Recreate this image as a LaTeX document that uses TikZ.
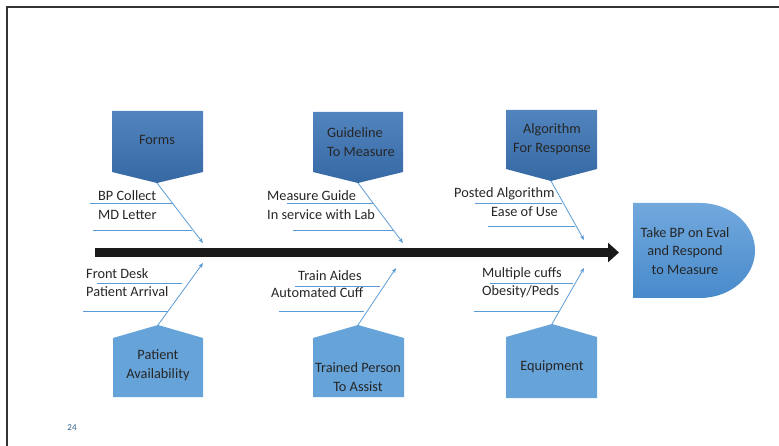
\documentclass[tikz,border=0pt]{standalone}
\usepackage{fontspec}
\setmainfont{Carlito}
\usetikzlibrary{arrows.meta,calc}

\definecolor{inkgray}{RGB}{38,38,38}
\definecolor{boneline}{RGB}{91,155,213}
\definecolor{darkA}{RGB}{82,132,190}
\definecolor{darkB}{RGB}{54,104,164}
\definecolor{lightbox}{RGB}{102,163,216}
\definecolor{headA}{RGB}{114,169,221}
\definecolor{headB}{RGB}{72,138,203}
\definecolor{spine}{RGB}{26,26,26}
\definecolor{pagenum}{RGB}{46,92,138}

\tikzset{
  causetop/.style={top color=darkA, bottom color=darkB, draw=none},
  causebot/.style={fill=lightbox, draw=none},
  boxtext/.style={text=inkgray, font=\fontsize{14.3}{18.5}\selectfont, align=center, inner sep=0pt},
  sidetext/.style={text=inkgray, font=\fontsize{14.3}{17}\selectfont, anchor=west, inner sep=0pt},
  rib/.style={draw=boneline, line width=0.8pt},
  feeder/.style={draw=boneline, line width=0.8pt, -{Stealth[length=5pt,width=4pt]}},
}

\begin{document}
\begin{tikzpicture}[x=1pt,y=-1pt]
\useasboundingbox (0,0) rectangle (779,446);

% slide frame (top and left edges)
\draw[line width=1.3pt, black!80] (7,446) -- (7,7) -- (779,7);

% main spine
\coordinate (spineL) at (95,252.5);
\coordinate (spineR) at (619,252.5);
\draw[spine, line width=9.5pt, -{Triangle[length=11pt,width=19pt]}] (spineL) -- (spineR);

% effect head
\path[top color=headA, bottom color=headB]
  (633,203) -- (700,203)
  .. controls (730.4,203) and (755,224.3) .. (755,250.5)
  .. controls (755,276.7) and (730.4,298) .. (700,298)
  -- (633,298) -- cycle;
\node[boxtext] (effect) at (685,251) {Take BP on Eval\\and Respond\\to Measure};

% ---------- upper causes ----------
% Forms
\path[causetop] (112,111) -- (203,111) -- (203,172) -- (157,183) -- (112,172) -- cycle;
\coordinate (formsTip) at (157,183);
\coordinate (formsEnd) at (203,243);
\node[boxtext] (forms) at (157,140) {Forms};
\draw[feeder] (formsTip) -- (formsEnd);
\node[sidetext] (bpcollect) at (98,196) {BP Collect};
\node[sidetext] (mdletter) at (98,215) {MD Letter};
\draw[rib] (90,203) -- (173,203);
\draw[rib] (93,230) -- (192,230);

% Guideline To Measure
\path[causetop] (313,112) -- (403,112) -- (403,172) -- (358,183) -- (313,172) -- cycle;
\coordinate (guideTip) at (358,183);
\coordinate (guideEnd) at (403,243);
\node[boxtext, align=left] (guide) at (361,142) {Guideline\\To Measure};
\draw[feeder] (guideTip) -- (guideEnd);
\node[sidetext] (measguide) at (267,196) {Measure Guide};
\node[sidetext] (inservice) at (267,215) {In service with Lab};
\draw[rib] (287,203) -- (373,203);
\draw[rib] (293,230) -- (393,230);

% Algorithm For Response
\path[causetop] (506,110) -- (597,110) -- (597,169) -- (551,181) -- (506,169) -- cycle;
\coordinate (algoTip) at (551,181);
\coordinate (algoEnd) at (584,240);
\node[boxtext] (algo) at (552,139) {Algorithm\\For Response};
\draw[feeder] (algoTip) -- (algoEnd);
\node[sidetext] (posted) at (454,194) {Posted Algorithm};
\node[sidetext] (ease) at (491,212) {Ease of Use};
\draw[rib] (475,203) -- (562,203);
\draw[rib] (488,226) -- (575,226);

% ---------- lower causes ----------
% Patient Availability
\path[causebot] (113,397) -- (113,338) -- (158,325) -- (203,338) -- (203,397) -- cycle;
\coordinate (patTip) at (158,325);
\coordinate (patEnd) at (203,263);
\node[boxtext] (patient) at (158,365) {Patient\\Availability};
\draw[feeder] (patTip) -- (patEnd);
\node[sidetext] (frontdesk) at (86,274) {Front Desk};
\node[sidetext] (arrival) at (86,292) {Patient Arrival};
\draw[rib] (97,283) -- (182,283);
\draw[rib] (83,311) -- (168,311);

% Trained Person To Assist
\path[causebot] (313,397) -- (313,338) -- (358,325) -- (404,338) -- (404,397) -- cycle;
\coordinate (trainTip) at (358,325);
\coordinate (trainEnd) at (396,268);
\node[boxtext] (trained) at (358,377) {Trained Person\\To Assist};
\draw[feeder] (trainTip) -- (trainEnd);
\node[sidetext] (aides) at (298,276) {Train Aides};
\node[sidetext] (autocuff) at (271,293) {Automated Cuff};
\draw[rib] (295,286) -- (380,286);
\draw[rib] (279,311) -- (364,311);

% Equipment
\path[causebot] (506,398) -- (506,337) -- (552,324) -- (597,337) -- (597,398) -- cycle;
\coordinate (equipTip) at (552,324);
\coordinate (equipEnd) at (584,268);
\node[boxtext] (equip) at (552,367) {Equipment};
\draw[feeder] (equipTip) -- (equipEnd);
\node[sidetext] (cuffs) at (482,274) {Multiple cuffs};
\node[sidetext] (obesity) at (482,292) {Obesity/Peds};
\draw[rib] (490,283) -- (573,283);
\draw[rib] (474,311) -- (559,311);

% slide number
\node[text=pagenum, font=\fontsize{9}{10}\selectfont, inner sep=0pt] (pageno) at (72,428) {24};
\end{tikzpicture}
\end{document}
